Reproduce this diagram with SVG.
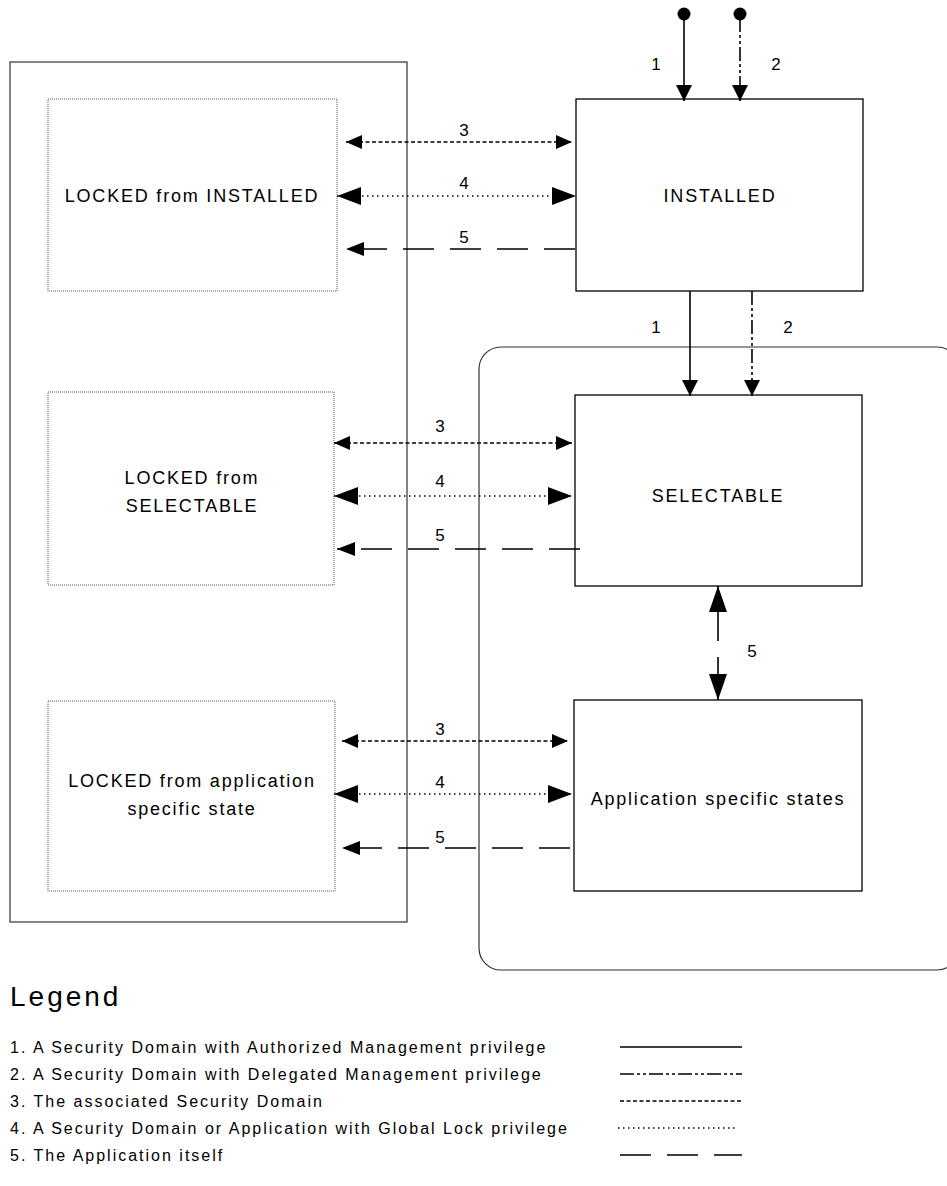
<svg xmlns="http://www.w3.org/2000/svg" width="947" height="1186" viewBox="0 0 947 1186">
<style>
  text { font-family: "Liberation Sans", Arial, sans-serif; fill: #000; }
  .lbl { font-size: 18px; letter-spacing: 1.8px; text-anchor: middle; }
  .num { font-size: 17px; text-anchor: middle; }
  .leg { font-size: 16px; letter-spacing: 2px; }
  .title { font-size: 28px; letter-spacing: 3px; }
  .state { fill: #fff; stroke: #000; stroke-width: 1.3; }
  .locked { fill: #fff; stroke: #555; stroke-width: 1; stroke-dasharray: 1 1; }
  .frame { fill: none; stroke: #333; stroke-width: 1.2; }
  .c1 { fill: none; stroke: #000; stroke-width: 1.6; }
  .c2 { fill: none; stroke: #000; stroke-width: 1.6; stroke-dasharray: 14 3 3 3 3 3; }
  .c3 { fill: none; stroke: #000; stroke-width: 1.6; stroke-dasharray: 4 2.5; }
  .c4 { fill: none; stroke: #000; stroke-width: 1.5; stroke-dasharray: 1.5 3.5; }
  .c5 { fill: none; stroke: #000; stroke-width: 1.6; stroke-dasharray: 31 16; }
</style>
<defs>
  <marker id="a3" markerUnits="userSpaceOnUse" markerWidth="18" markerHeight="16" refX="16" refY="7" orient="auto-start-reverse">
    <path d="M0,0 L16,7 L0,14 Z" fill="#000"/>
  </marker>
  <marker id="a4" markerUnits="userSpaceOnUse" markerWidth="26" markerHeight="20" refX="24" refY="9" orient="auto-start-reverse">
    <path d="M0,0 L24,9 L0,18 Z" fill="#000"/>
  </marker>
  <marker id="a5" markerUnits="userSpaceOnUse" markerWidth="20" markerHeight="16" refX="18" refY="7" orient="auto-start-reverse">
    <path d="M0,0 L18,7 L0,14 Z" fill="#000"/>
  </marker>
  <marker id="a1" markerUnits="userSpaceOnUse" markerWidth="18" markerHeight="18" refX="16" refY="8" orient="auto">
    <path d="M0,0 L16,8 L0,16 Z" fill="#000"/>
  </marker>
  <marker id="av" markerUnits="userSpaceOnUse" markerWidth="28" markerHeight="20" refX="26" refY="9" orient="auto">
    <path d="M0,0 L26,9 L0,18 Z" fill="#000"/>
  </marker>
</defs>

<!-- frames -->
<rect class="frame" x="10" y="62" width="397" height="860"/>
<rect class="frame" x="479" y="347" width="480" height="623" rx="22" ry="22"/>

<!-- nodes -->
<g id="locked-installed">
  <rect class="locked" x="48" y="99" width="289" height="192"/>
  <text class="lbl" x="192" y="202">LOCKED from INSTALLED</text>
</g>
<g id="locked-selectable">
  <rect class="locked" x="48" y="392" width="286" height="193"/>
  <text class="lbl" x="192" y="484">LOCKED from</text>
  <text class="lbl" x="192" y="512">SELECTABLE</text>
</g>
<g id="locked-app">
  <rect class="locked" x="48" y="701" width="287" height="190"/>
  <text class="lbl" x="192" y="787">LOCKED from application</text>
  <text class="lbl" x="192" y="815">specific state</text>
</g>
<g id="installed">
  <rect class="state" x="576" y="99" width="287" height="192"/>
  <text class="lbl" x="720" y="202">INSTALLED</text>
</g>
<g id="selectable">
  <rect class="state" x="575" y="395" width="287" height="191"/>
  <text class="lbl" x="718" y="502">SELECTABLE</text>
</g>
<g id="app-states">
  <rect class="state" x="574" y="700" width="288" height="191"/>
  <text class="lbl" x="718" y="805">Application specific states</text>
</g>

<!-- connectors -->
<g id="connectors">
  <circle cx="684" cy="14" r="6.5" fill="#000"/>
  <path class="c1" d="M684,14 L684,101" marker-end="url(#a1)"/>
  <circle cx="740" cy="14" r="6.5" fill="#000"/>
  <path class="c2" d="M740,18 L740,101" marker-end="url(#a1)"/>
  <path class="c1" d="M690,291 L690,396" marker-end="url(#a1)"/>
  <path class="c2" d="M752,291 L752,396" marker-end="url(#a1)"/>
  <path class="c1" d="M718,641 L718,586" marker-end="url(#av)"/>
  <path class="c1" d="M718,657 L718,700" marker-end="url(#av)"/>

  <path class="c3" d="M346,142 L572,142" marker-start="url(#a3)" marker-end="url(#a3)"/>
  <path class="c4" d="M337,196 L576,196" marker-start="url(#a4)" marker-end="url(#a4)"/>
  <path class="c5" d="M575,249 L346,249" marker-end="url(#a5)"/>
  <path class="c3" d="M334,443 L572,443" marker-start="url(#a3)" marker-end="url(#a3)"/>
  <path class="c4" d="M334,496 L572,496" marker-start="url(#a4)" marker-end="url(#a4)"/>
  <path class="c5" d="M580,549 L337,549" marker-end="url(#a5)"/>
  <path class="c3" d="M342,741 L568,741" marker-start="url(#a3)" marker-end="url(#a3)"/>
  <path class="c4" d="M334,794 L572,794" marker-start="url(#a4)" marker-end="url(#a4)"/>
  <path class="c5" d="M570,848 L342,848" marker-end="url(#a5)"/>

  <text class="num" x="656" y="70">1</text>
  <text class="num" x="776" y="70">2</text>
  <text class="num" x="656" y="333">1</text>
  <text class="num" x="788" y="333">2</text>
  <text class="num" x="752" y="657">5</text>
  <text class="num" x="464" y="136">3</text>
  <text class="num" x="464" y="189">4</text>
  <text class="num" x="464" y="243">5</text>
  <text class="num" x="440" y="432">3</text>
  <text class="num" x="440" y="487">4</text>
  <text class="num" x="440" y="541">5</text>
  <text class="num" x="440" y="735">3</text>
  <text class="num" x="440" y="788">4</text>
  <text class="num" x="440" y="843">5</text>
</g>

<!-- legend -->
<g id="legend">
  <text class="title" x="10" y="1006">Legend</text>
  <text class="leg" x="10" y="1053">1. A Security Domain with Authorized Management privilege</text>
  <text class="leg" x="10" y="1080">2. A Security Domain with Delegated Management privilege</text>
  <text class="leg" x="10" y="1107">3. The associated Security Domain</text>
  <text class="leg" x="10" y="1134">4. A Security Domain or Application with Global Lock privilege</text>
  <text class="leg" x="10" y="1161">5. The Application itself</text>
  <path class="c1" d="M620,1047 L742,1047"/>
  <path class="c2" d="M620,1074 L742,1074"/>
  <path class="c3" d="M620,1101 L742,1101"/>
  <path class="c4" d="M618,1128 L738,1128"/>
  <path class="c5" d="M620,1155 L742,1155"/>
</g>
</svg>
